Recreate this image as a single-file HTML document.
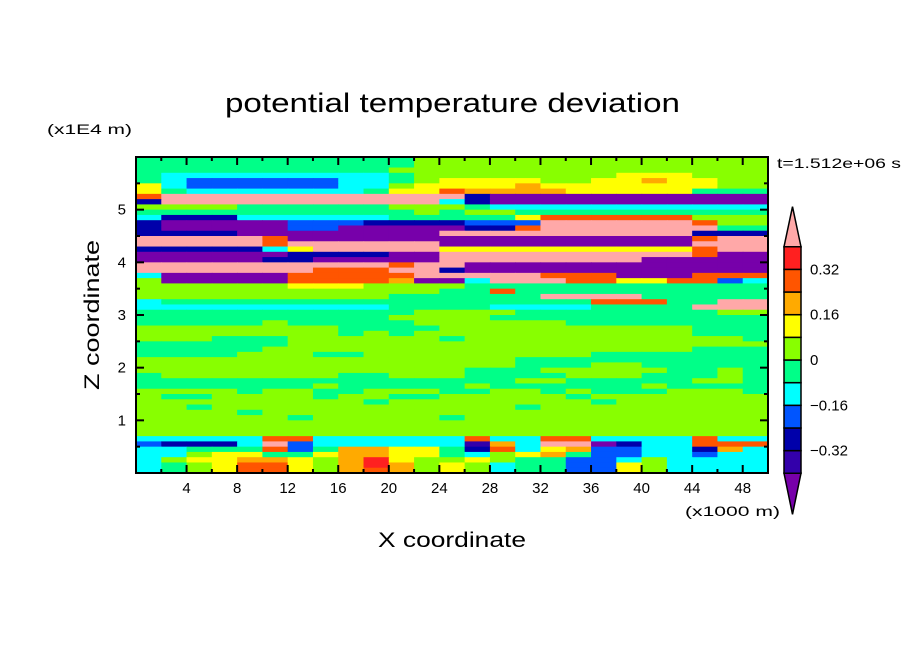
<!DOCTYPE html>
<html><head><meta charset="utf-8"><style>
body{margin:0;background:#fff;}
svg{display:block;font-family:"Liberation Sans","DejaVu Sans",sans-serif;}
</style></head><body>
<svg id="chart" width="904" height="654" viewBox="0 0 904 654" xmlns="http://www.w3.org/2000/svg">
<rect width="904" height="654" fill="#fff"/>
<text x="225" y="112" font-size="27" textLength="455" lengthAdjust="spacingAndGlyphs" fill="#000">potential temperature deviation</text>
<text x="47" y="134" font-size="14" textLength="85" lengthAdjust="spacingAndGlyphs" fill="#000">(x1E4 m)</text>
<text x="777" y="168" font-size="14" textLength="124" lengthAdjust="spacingAndGlyphs" fill="#000">t=1.512e+06 s</text>
<text x="685" y="516" font-size="14" textLength="95" lengthAdjust="spacingAndGlyphs" fill="#000">(x1000 m)</text>
<text x="378" y="547" font-size="21" textLength="148" lengthAdjust="spacingAndGlyphs" fill="#000">X coordinate</text>
<text x="-75" y="0" font-size="21" textLength="150" lengthAdjust="spacingAndGlyphs" fill="#000" transform="translate(99,315) rotate(-90)">Z coordinate</text>
<g id="field"></g>
<g id="axes"></g>
<g id="cbar"></g>
</svg>
<script>
const NS="http://www.w3.org/2000/svg";
const xDomain=[0,50];
const zDomain=[0,6];
const xTicks=[4,8,12,16,20,24,28,32,36,40,44,48];
const zTicks=[1,2,3,4,5];
const cbarLevels=[-0.4,-0.32,-0.24,-0.16,-0.08,0,0.08,0.16,0.24,0.32,0.4];
const cbarLabels=["0.32","0.16","0","\u22120.16","\u22120.32"];
const cbarLabelValues=[0.32,0.16,0,-0.16,-0.32];
const levelColors=["#7700aa","#3300aa","#0000aa","#0055ff","#00ffff","#00ff88","#88ff00","#ffff00","#ffaa00","#ff5500","#ff2020","#ffa8a8"];
const codeKeys="PIDBCGLYOREK";
const fieldRows=[
"GGGGGGGGGGGLLLLLLLLLLLLLL",
"GGGGGGGGGGGLLLLLLLLLLLLLL",
"GGGGGGGGGGLLLLLLLLLLLLLLL",
"GCCCCCCCCCGLLLLLLLLYYYLLL",
"GCBBBBBBCCGLYYYYLLYYOYYLL",
"YCBBBBBBCCLYYYYOYYYYYYYLL",
"YGCCCCCCCGYYROOOOYYYYYGGG",
"RKKKKKKKKKKKKDPPPPPPPPPPP",
"DKKKKKKKKKKKCDPPPPPPPPPPP",
"LLLLGGGGGGLLLGCCCCCCCCCCC",
"GGGGGGGGGGGLGLLGGGGGGGGGG",
"CDDDCCCCCCGGGGGYRRRRRRLLL",
"DPPPPPBBBDDDDBBBKKKKKKRLL",
"DPPPPPBBPPPPPDDRKKKKKKKGG",
"DDDDPPPPPPPPKKKKKKKKKKDDD",
"KKKKKRPPPPPPPPPPPPPPPPRKK",
"KKKKKRKKKKKKPPPPPPPPPPKKK",
"DDDDDCYKKKKKYYYYYYYYYYRKK",
"PPPPPPDDDDPPKKKKKKKKKKRPP",
"PPPPPDDPPPPPKKKKKKKKPPPPP",
"KKKKKKKKKKRKKPPPPPPPPPPPP",
"KKKKKKKRRRKKDPPPPPPPPPPPP",
"CPPPPPRRRRRKKKKKRRRPPPRRR",
"LPPPPPRRRROPPCKKKRRYYRRBC",
"LLLLLLYYYLLLLGGGGGGGGGGGG",
"LLLLLLLLLLLLGGRGGGGGGGGGG",
"LLLLLLLLLLGGGGGGKKKKGGGGG",
"CGGGGGGGGGGGGGGGGGRRRGGKK",
"CCCCCCCCCCGGGGCCCCGGGGKKK",
"GGGGGGGGGGGLLLLGGGGGGGGLL",
"GGGGGGGGGGLLLLGGGGGGGGGGG",
"GGGGGLGGGGGLLLLLLGGGGGGGG",
"LLLLLLLLGGGGLLLLLLLLLLGGG",
"LLLLLLLLGLGLLLLLLLLLLLGGG",
"LLLGGGLLLLLLGLLLLLLLLLLLG",
"GGGGGGLLLLLLLLLLLLLLLLLLL",
"GGGGGLLLLLLLLLLLLLLLLLGGG",
"GGGGLLLGGLLLLLLLLLGGGGGGG",
"LLLLLLLLLLLLLLLGGGGGGGGGG",
"LLLLLLLLLLLLLLLGGGLLGGGGG",
"LLLLLLLLLLLLLGGGLLLLLGGLG",
"GLLLLLLLGGLLLGGGGLLLGGGLG",
"GGGGGGGGGGGGGGGLLGGGGGLLG",
"GGGGGGGLGGGGGLGGGGGGLGGGG",
"LLLLGLLGGLLLGGLLGLGGGLLLG",
"LGGLLLLGLLGGLLLLLGLLLLLLL",
"LLLLLLLLLGLLLLLLLLGLLLLLL",
"LLGLLLLLLLLLLLLGLLLLLLLLL",
"LLLLGLLLLLLLLLLLLLLLLLLLL",
"LLLLLLGLLLLLGLLLLLLLLLLLL",
"LLLLLLLLLLLLLLLLLLLLLLLLL",
"LLLLLLLLLLLLLLLLLLLLLLLLL",
"LLLLLLLLLLLLLLLLLLLLLLLLL",
"CCCCCRRCCCCCCRCCRRCCCCRCC",
"BDDDCKBCCCCCCIOCKKPDCCRRR",
"CCGGGRBGOOYYGDRCYOBBCCDOC",
"CCLYYGGYOOYYGCLYOGBBCCBCC",
"CLYYOOYLOEYLLYLGGBBCLCCCC",
"CGLYRRYLOEOLYLCGGBBYLCCCC",
"CGLYRRYLOROLYLCGGBBYLCCCC"
];
const PX0=136,PX1=768,PY0=157,PY1=473;
function xScale(v){return PX0+(v-xDomain[0])/(xDomain[1]-xDomain[0])*(PX1-PX0);}
function zScale(v){return PY1-(v-zDomain[0])/(zDomain[1]-zDomain[0])*(PY1-PY0);}
function levelIndex(v){let i=Math.floor((v+0.4)/0.08+1e-9)+1;return Math.max(0,Math.min(11,i));}
const NC=25;
const fieldValues=fieldRows.map(r=>{let s=(r+"GGGGGGGGGGGGGGGGGGGGGGGGG").slice(0,NC);return s.split("").map(ch=>-0.44+codeKeys.indexOf(ch)*0.08);});
const fieldG=document.getElementById("field");
const nR=fieldValues.length,dx=(xDomain[1]-xDomain[0])/NC,dz=(zDomain[1]-zDomain[0])/nR;
fieldValues.forEach((row,r)=>{row.forEach((v,c)=>{
 const x0=xScale(c*dx),x1=xScale((c+1)*dx),y0=zScale(zDomain[1]-r*dz),y1=zScale(zDomain[1]-(r+1)*dz);
 const el=document.createElementNS(NS,"rect");
 
 
 el.setAttribute("x",x0);el.setAttribute("y",y0);el.setAttribute("width",x1-x0+0.6);el.setAttribute("height",y1-y0+0.6);
 el.setAttribute("fill",levelColors[levelIndex(v)]);fieldG.appendChild(el);
});});
const axesG=document.getElementById("axes");
function line(x1,y1,x2,y2,w,name){const l=document.createElementNS(NS,"line");
 
 
 l.setAttribute("x1",x1);l.setAttribute("y1",y1);l.setAttribute("x2",x2);l.setAttribute("y2",y2);l.setAttribute("stroke","#000");l.setAttribute("stroke-width",w);axesG.appendChild(l);}
function text(x,y,s,anchor,size,name,parent){const t=document.createElementNS(NS,"text");
 
 
 t.setAttribute("x",x);t.setAttribute("y",y);t.setAttribute("text-anchor",anchor);t.setAttribute("font-size",size);t.textContent=s;(parent||axesG).appendChild(t);}
const frame=document.createElementNS(NS,"rect");


frame.setAttribute("x",PX0);frame.setAttribute("y",PY0);frame.setAttribute("width",PX1-PX0);frame.setAttribute("height",PY1-PY0);frame.setAttribute("fill","none");frame.setAttribute("stroke","#000");frame.setAttribute("stroke-width",2);axesG.appendChild(frame);
for(let v=2;v<50;v+=2){const x=xScale(v),major=v%4===0,L=major?8:4;
 line(x,PY1,x,PY1-L,2,'x-tick');line(x,PY0,x,PY0+L,2,'x-tick-top');}
xTicks.forEach(v=>text(xScale(v),493,String(v),"middle",15,'x-tick-label'));
for(let v=0.5;v<6;v+=0.5){const y=zScale(v),major=Math.abs(v-Math.round(v))<1e-6,L=major?8:4;
 line(PX0,y,PX0+L,y,2,'z-tick');line(PX1,y,PX1-L,y,2,'z-tick-right');}
zTicks.forEach(v=>text(126,zScale(v)+5,String(v),"end",15,'z-tick-label'));
const cbG=document.getElementById("cbar");
const CX0=784,CX1=801,CB0=473.3,CBstep=22.66;
function cbY(v){return CB0-(v-cbarLevels[0])/0.08*CBstep;}
for(let i=0;i<cbarLevels.length-1;i++){
 const r=document.createElementNS(NS,"rect");
 
 
 r.setAttribute("x",CX0);r.setAttribute("y",cbY(cbarLevels[i+1]));r.setAttribute("width",CX1-CX0);r.setAttribute("height",CBstep);
 r.setAttribute("fill",levelColors[i+1]);r.setAttribute("stroke","#000");r.setAttribute("stroke-width",1.5);cbG.appendChild(r);}
const cbTop=cbY(cbarLevels[cbarLevels.length-1]),cbBot=cbY(cbarLevels[0]);
const t1=document.createElementNS(NS,"polygon");


t1.setAttribute("points",`${CX0},${cbTop} ${CX1},${cbTop} ${(CX0+CX1)/2},${cbTop-40}`);t1.setAttribute("fill",levelColors[11]);t1.setAttribute("stroke","#000");t1.setAttribute("stroke-width",1.5);cbG.appendChild(t1);
const t2=document.createElementNS(NS,"polygon");


t2.setAttribute("points",`${CX0},${cbBot} ${CX1},${cbBot} ${(CX0+CX1)/2},${cbBot+41}`);t2.setAttribute("fill",levelColors[0]);t2.setAttribute("stroke","#000");t2.setAttribute("stroke-width",1.5);cbG.appendChild(t2);
cbarLabels.forEach((s,i)=>text(810,cbY(cbarLabelValues[i])+5,s,"start",15,'colorbar-label',cbG));
</script>
</body></html>
